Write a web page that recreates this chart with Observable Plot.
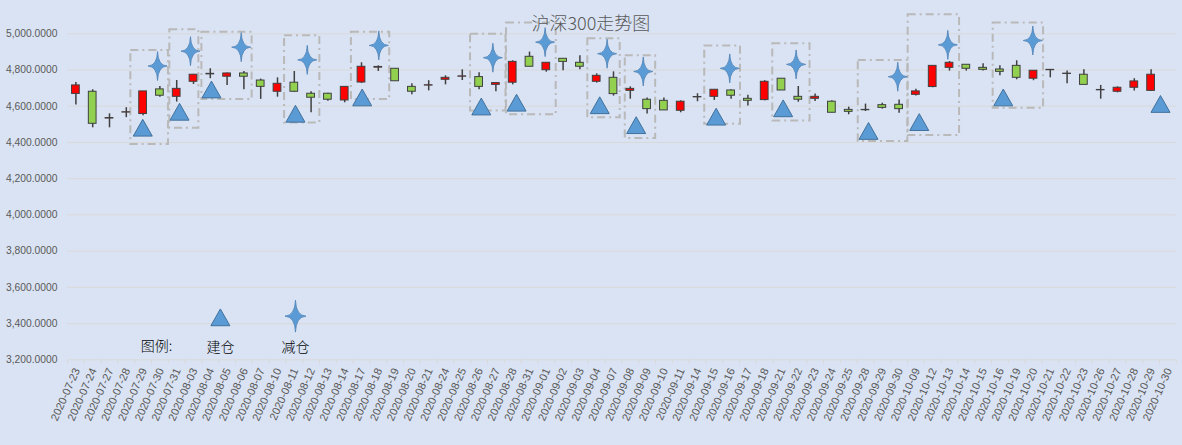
<!DOCTYPE html>
<html>
<head>
<meta charset="utf-8">
<script src="https://cdn.jsdelivr.net/npm/d3@7"></script>
<script src="https://cdn.jsdelivr.net/npm/@observablehq/plot@0.6"></script>
<style>
  html, body { margin: 0; padding: 0; background: #dae3f3; }
  #chart { width: 1182px; height: 445px; overflow: hidden; }
</style>
</head>
<body>
<div id="chart"></div>
<script>
const title = "沪深300走势图";
const dates = ["2020-07-23","2020-07-24","2020-07-27","2020-07-28","2020-07-29","2020-07-30","2020-07-31",
  "2020-08-03","2020-08-04","2020-08-05","2020-08-06","2020-08-07","2020-08-10","2020-08-11","2020-08-12","2020-08-13","2020-08-14",
  "2020-08-17","2020-08-18","2020-08-19","2020-08-20","2020-08-21","2020-08-24","2020-08-25","2020-08-26","2020-08-27","2020-08-28","2020-08-31",
  "2020-09-01","2020-09-02","2020-09-03","2020-09-04","2020-09-07","2020-09-08","2020-09-09","2020-09-10","2020-09-11","2020-09-14","2020-09-15",
  "2020-09-16","2020-09-17","2020-09-18","2020-09-21","2020-09-22","2020-09-23","2020-09-24","2020-09-25","2020-09-28","2020-09-29","2020-09-30",
  "2020-10-09","2020-10-12","2020-10-13","2020-10-14","2020-10-15","2020-10-16","2020-10-19","2020-10-20","2020-10-21","2020-10-22","2020-10-23",
  "2020-10-26","2020-10-27","2020-10-28","2020-10-29","2020-10-30"];
const openV  = [4668,4680,4532,4565,4557,4693,4652,4735,4776,4763,4781,4742,4680,4730,4669,4669,4632,4731,4813,4807,
  4707,4714,4746,4763,4761,4718,4730,4873,4799,4862,4840,4735,4757,4685,4636,4630,4575,4649,4652,4687,
  4641,4634,4752,4652,4641,4625,4580,4578,4606,4608,4663,4706,4812,4829,4812,4803,4823,4752,4801,4778,
  4774,4688,4680,4702,4685,null];
const closeV = [4715,4503,4535,4567,4682,4658,4696,4774,4779,4781,4763,4707,4724,4680,4647,4636,4707,4818,4817,4738,
  4680,4716,4757,4765,4707,4728,4845,4818,4840,4845,4818,4768,4667,4696,4584,4577,4625,4651,4691,4658,
  4630,4735,4687,4636,4652,4564,4569,4580,4591,4584,4682,4823,4840,4807,4801,4790,4757,4796,4799,4780,
  4718,4690,4702,4737,4774,null];
const highV  = [4731,4691,4558,4592,4682,4709,4742,4776,4807,4783,4792,4750,4757,4792,4680,4672,4709,4840,4823,4807,
  4724,4741,4768,4801,4785,4728,4851,4899,4840,4862,4879,4779,4790,4707,4645,4645,4630,4669,4691,4691,
  4661,4741,4752,4709,4667,4630,4595,4612,4617,4634,4694,4823,4847,4829,4834,4823,4851,4796,4801,4794,
  4801,4715,4707,4752,4801,null];
const lowV   = [4607,4481,4481,4537,4547,4650,4623,4720,4752,4715,4691,4638,4650,4676,4564,4627,4619,4726,4792,4738,
  4663,4685,4718,4742,4691,4680,4718,4818,4788,4796,4801,4728,4656,4639,4557,4577,4564,4625,4632,4639,
  4602,4630,4687,4622,4626,4564,4553,4571,4584,4562,4656,4702,4794,4794,4794,4768,4746,4741,4757,4724,
  4718,4639,4674,4684,4682,null];

const triX = [4.48,6.67,8.57,13.57,17.54,24.63,26.73,31.68,33.85,38.61,42.6,47.68,50.7,55.7,65.06];
const triY = [4481,4569,4692,4558,4648,4598,4619,4605,4495,4542,4588,4463,4512,4648,4612];
const starX = [5.36,7.32,10.34,14.27,18.53,25.32,28.43,32.12,34.27,39.42,43.37,49.42,52.4,57.46];
const starY = [4822,4904,4926,4856,4936,4868,4954,4890,4792,4809,4831,4763,4939,4963];

const boxX1 = [3.77,6.09,8.0,12.92,16.9,23.99,26.13,30.97,33.2,37.93,41.98,47.07,50.04,55.1];
const boxX2 = [6.01,7.82,10.99,15.02,19.18,26.1,29.09,32.9,35.01,40.06,44.2,50.02,53.1,58.1];
const boxTop = [4908,5022,5009,4989,5009,4998,5059,4972,4879,4932,4945,4853,5105,5059];
const boxBottom = [4389,4478,4637,4508,4637,4574,4553,4536,4422,4500,4518,4405,4438,4589];

const yTicks = [3200,3400,3600,3800,4000,4200,4400,4600,4800,5000];
const legendText = ["图例:","建仓","减仓"];
const legendX = [5.3,9.1,13.57];
const legendY = [3272,3266,3266];
const legendTriX = [9.1], legendTriY = [3434];
const legendStarX = [13.57], legendStarY = [3441];

const candles = dates.map((d, i) => ({i: i + 0.5, date: d, open: openV[i], close: closeV[i], high: highV[i], low: lowV[i]}))
  .filter(d => d.open != null);
const tris = triX.map((x, i) => ({x, y: triY[i]}));
const stars = starX.map((x, i) => ({x, y: starY[i]}));
const boxes = boxX1.map((x1, i) => ({x1, x2: boxX2[i], y1: boxBottom[i], y2: boxTop[i]}));
const bounds = d3.range(dates.length + 1);
const centers = dates.map((d, i) => ({x: i + 0.5, label: d}));

const triangleSym = {
  draw(ctx, size) {
    const s = Math.sqrt(size / Math.PI) / 10;
    ctx.moveTo(0, -8.5 * s);
    ctx.lineTo(9.5 * s, 8.3 * s);
    ctx.lineTo(-9.5 * s, 8.3 * s);
    ctx.closePath();
  }
};
const starSym = {
  draw(ctx, size) {
    const s = Math.sqrt(size / Math.PI) / 10;
    const v = 14.5 * s, h = 9.5 * s, c = 0.5 * s;
    ctx.moveTo(0, -v);
    ctx.quadraticCurveTo(c, -c, h, 0);
    ctx.quadraticCurveTo(c, c, 0, v);
    ctx.quadraticCurveTo(-c, c, -h, 0);
    ctx.quadraticCurveTo(-c, -c, 0, -v);
    ctx.closePath();
  }
};

const fmt = d3.format(",.4f");
const hw = 0.23;
const axisGray = "#d9d9d9";

const chart = Plot.plot({
  width: 1182,
  height: 445,
  marginLeft: 67,
  marginRight: 6.2,
  marginTop: 33.3,
  marginBottom: 85.7,
  style: {background: "#dae3f3", fontFamily: "Liberation Sans, Arial, sans-serif", color: "#595959", overflow: "visible"},
  x: {domain: [0, dates.length], axis: null},
  y: {domain: [3200, 5000], axis: null},
  marks: [
    Plot.ruleY(yTicks, {stroke: axisGray, strokeWidth: 1}),
    Plot.ruleX(bounds, {x: d => d, y1: 3200, y2: 3200 - 24, stroke: axisGray, strokeWidth: 1}),
    Plot.text(yTicks, {x: 0, y: d => d, text: d => fmt(d), textAnchor: "end", dx: -10, fontSize: 10.3, fill: "#595959"}),
    Plot.text(centers, {x: "x", y: 3200, text: "label", rotate: -66, textAnchor: "end", lineAnchor: "middle", dx: 1, dy: 9, fontSize: 11, fill: "#595959"}),
    Plot.rect(boxes, {x1: "x1", x2: "x2", y1: "y1", y2: "y2", fill: "none", stroke: "#b9b9b9", strokeWidth: 2, strokeDasharray: "8,4,2,4"}),
    Plot.ruleX(candles, {x: "i", y1: "low", y2: "high", stroke: "#404040", strokeWidth: 1.5}),
    Plot.rect(candles, {
      x1: d => d.i - hw, x2: d => d.i + hw,
      y1: "open", y2: "close",
      fill: d => d.close >= d.open ? "#ff0000" : "#92d050",
      stroke: "#404040", strokeWidth: 1
    }),
    Plot.dot(tris, {x: "x", y: "y", symbol: triangleSym, r: 10, fill: "#5b9bd5", stroke: "#41719c", strokeWidth: 1}),
    Plot.dot(stars, {x: "x", y: "y", symbol: starSym, r: 10, fill: "#5b9bd5", stroke: "#4a7fb5", strokeWidth: 0.8}),
    Plot.dot(legendTriX.map((x, i) => ({x, y: legendTriY[i]})), {x: "x", y: "y", symbol: triangleSym, r: 10, fill: "#5b9bd5", stroke: "#41719c", strokeWidth: 1}),
    Plot.dot(legendStarX.map((x, i) => ({x, y: legendStarY[i]})), {x: "x", y: "y", symbol: starSym, r: 11, fill: "#5b9bd5", stroke: "#4a7fb5", strokeWidth: 0.8}),
    Plot.text(legendText.map((t, i) => ({t, x: legendX[i], y: legendY[i]})), {x: "x", y: "y", text: "t", fontSize: 14, fontWeight: 300, fill: "#000000", fontFamily: "Noto Sans CJK SC, sans-serif"}),
    Plot.text([title], {frameAnchor: "top", text: d => d, dx: -31, dy: -17, fontSize: 18, fontWeight: 300, fill: "#595959", fontFamily: "Noto Sans CJK SC, sans-serif"})
  ]
});
document.getElementById("chart").appendChild(chart);
</script>
</body>
</html>
